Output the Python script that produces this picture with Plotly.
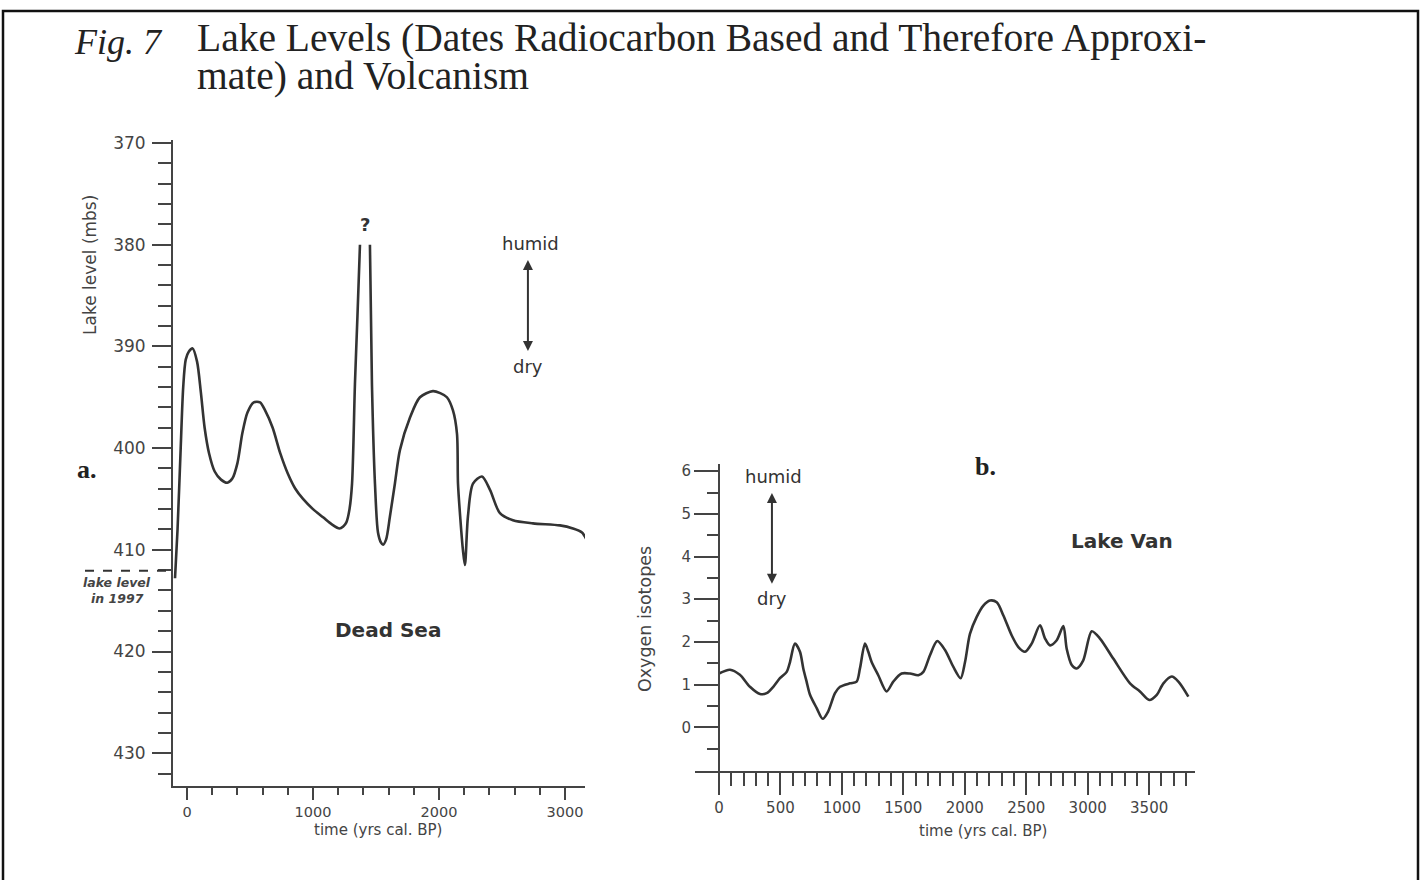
import plotly.graph_objects as go

# ---------------- DATA ----------------
# Panel a: Dead Sea lake level (m below sea level) vs time (yrs cal. BP)
dead_sea_x = [-95, -75, -50, -30, -10, 15, 45, 80, 110, 140, 175, 220, 270, 320, 360, 400, 440,
              480, 530, 580, 620, 680, 740, 800, 860, 921, 1000, 1080, 1150, 1210, 1240, 1265,
              1290, 1310, 1333, 1353, 1373,
              None,
              1452, 1468, 1492, 1516, 1540, 1556, 1580, 1611, 1650, 1690, 1770, 1849, 1952, 2010,
              2063, 2111, 2143, 2151, 2170, 2190, 2206, 2230, 2270, 2341, 2405, 2484, 2587, 2746,
              2960, 3063, 3135, 3175]
dead_sea_y = [412.8, 408.0, 400.0, 394.0, 391.3, 390.5, 390.2, 391.5, 394.5, 398.0, 400.5, 402.3,
              403.1, 403.4, 403.0, 401.5, 398.5, 396.5, 395.5, 395.5, 396.3, 398.0, 400.5, 402.5,
              404.0, 405.0, 406.0, 406.8, 407.5, 407.9, 407.7, 407.3, 406.0, 403.5, 393.7, 387.0,
              380.0,
              None,
              380.0, 393.7, 403.5, 408.3, 409.3, 409.5, 409.0, 406.7, 403.5, 400.2, 397.0, 395.0,
              394.4, 394.6, 395.0, 396.3, 398.6, 403.5, 407.0, 410.0, 411.5, 406.7, 403.5, 402.8,
              404.1, 406.4, 407.1, 407.4, 407.6, 407.9, 408.3, 409.1]

# Panel b: Lake Van oxygen isotopes vs time (yrs cal. BP)
van_x = [0, 90, 170, 252, 334, 388, 442, 496, 551, 578, 618, 659, 686, 713, 740, 795, 844, 888,
         944, 985, 1066, 1120, 1147, 1188, 1215, 1242, 1296, 1364, 1418, 1486, 1554, 1622, 1663,
         1717, 1776, 1839, 1906, 1966, 2002, 2042, 2096, 2151, 2205, 2260, 2314, 2382, 2436, 2490,
         2544, 2612, 2653, 2693, 2748, 2802, 2829, 2870, 2911, 2964, 3033, 3100, 3208, 3344, 3425,
         3501, 3562, 3616, 3684, 3738, 3819]
van_y = [1.26, 1.35, 1.23, 0.95, 0.78, 0.80, 0.95, 1.15, 1.30, 1.53, 1.96, 1.77, 1.38, 1.07, 0.77,
         0.45, 0.20, 0.37, 0.80, 0.95, 1.03, 1.07, 1.38, 1.96, 1.77, 1.53, 1.22, 0.84, 1.07, 1.26,
         1.26, 1.22, 1.30, 1.69, 2.02, 1.81, 1.42, 1.15, 1.53, 2.19, 2.58, 2.85, 2.97, 2.93, 2.62,
         2.15, 1.88, 1.77, 1.96, 2.39, 2.08, 1.92, 2.04, 2.37, 1.84, 1.46, 1.38, 1.57, 2.25, 2.08,
         1.61, 1.03, 0.84, 0.64, 0.76, 1.03, 1.19, 1.07, 0.72]

a_major_x = [0, 1000, 2000, 3000]
a_major_y = [370, 380, 390, 400, 410, 420, 430]
b_major_x = [0, 500, 1000, 1500, 2000, 2500, 3000, 3500]
b_major_y = [0, 1, 2, 3, 4, 5, 6]
lake_level_1997 = 412.05

# ---------------- LAYOUT HELPERS ----------------
W, H = 1424, 880
def fx(px):
    return px / W
def fy(py):
    return 1 - py / H

SANS = "DejaVu Sans"
SERIF = "Liberation Serif"
AX = "#444444"
LINE = "#333333"

fig = go.Figure()

fig.add_trace(go.Scatter(x=dead_sea_x, y=dead_sea_y, mode="lines",
                         line=dict(color=LINE, width=2.6, shape="spline", smoothing=0.8),
                         connectgaps=False, xaxis="x", yaxis="y", hoverinfo="skip"))
fig.add_trace(go.Scatter(x=van_x, y=van_y, mode="lines",
                         line=dict(color=LINE, width=2.6, shape="spline", smoothing=0.8),
                         xaxis="x2", yaxis="y2", hoverinfo="skip"))

a_minor_x = [v for v in range(200, 3200, 200) if v not in a_major_x]
a_minor_y = [v for v in range(372, 434, 2) if v not in a_major_y]
b_minor_x = [v for v in range(100, 3900, 100) if v not in b_major_x]
b_minor_y = [v / 2 for v in range(-1, 12) if (v / 2) not in b_major_y]

tickfont_a = dict(family=SANS, size=17, color=AX)
tickfont_ax = dict(family=SANS, size=14.5, color=AX)
tickfont_b = dict(family=SANS, size=15, color=AX)

fig.update_layout(
    width=W, height=H,
    margin=dict(l=0, r=0, t=0, b=0),
    paper_bgcolor="white", plot_bgcolor="white",
    showlegend=False,
    xaxis=dict(domain=[fx(173), fx(585)], range=[-111, 3159], anchor="y",
               showgrid=False, zeroline=False, showline=True, linecolor=AX, linewidth=2,
               ticks="outside", tickvals=a_major_x, ticklen=12, tickwidth=2, tickcolor=AX,
               tickfont=tickfont_ax,
               minor=dict(tickvals=a_minor_x, ticks="outside", ticklen=7, tickwidth=2, tickcolor=AX)),
    yaxis=dict(domain=[fy(785), fy(134)], range=[433.2, 369.7], anchor="x",
               showgrid=False, zeroline=False, showline=True, linecolor=AX, linewidth=2,
               ticks="outside", tickvals=a_major_y, ticklen=19, tickwidth=2, tickcolor=AX,
               tickfont=tickfont_a, ticklabelstandoff=3,
               minor=dict(tickvals=a_minor_y, ticks="outside", ticklen=13, tickwidth=2, tickcolor=AX)),
    xaxis2=dict(domain=[fx(695), fx(1195)], range=[-195, 3873], anchor="y2",
                showgrid=False, zeroline=False, showline=True, linecolor=AX, linewidth=2,
                ticks="outside", tickvals=b_major_x, ticklen=22, tickwidth=2, tickcolor=AX,
                tickfont=tickfont_b,
                minor=dict(tickvals=b_minor_x, ticks="outside", ticklen=13, tickwidth=2, tickcolor=AX)),
    yaxis2=dict(domain=[fy(770), fy(461)], range=[-1.02, 6.16], anchor="free", position=fx(719),
                showgrid=False, zeroline=False, showline=True, linecolor=AX, linewidth=2,
                ticks="outside", tickvals=b_major_y, ticklen=24, tickwidth=2, tickcolor=AX,
                tickfont=tickfont_b,
                minor=dict(tickvals=b_minor_y, ticks="outside", ticklen=11, tickwidth=2, tickcolor=AX)),
)

ann = []
def txt(text, px, py, size, family=SANS, color="#333333", angle=0, xanchor="center",
        yanchor="middle", bold=False):
    if bold:
        text = "<b>" + text + "</b>"
    ann.append(dict(text=text, x=fx(px), y=fy(py), xref="paper", yref="paper",
                    xanchor=xanchor, yanchor=yanchor, showarrow=False, textangle=angle,
                    align="left", font=dict(family=family, size=size, color=color)))

# Title: two tightly spaced lines in one text block (base size sets line spacing)
big = '<span style="font-size:39.5px">%s</span>'
txt("<i>Fig. 7</i>", 72, 35, 36, family=SERIF, color="#222222", xanchor="left")
txt(big % "Lake Levels (Dates Radiocarbon Based and Therefore Approxi-" + "<br>"
    + big % "mate) and Volcanism",
    195, 7, 29.2, family=SERIF, color="#222222", xanchor="left", yanchor="top")

# Panel a texts
txt("Lake level (mbs)", 90, 260, 17, color=AX, angle=-90)
txt("time (yrs cal. BP)", 378, 830, 15, color=AX)
txt("humid", 530, 238, 18)
txt("dry", 528, 362, 18)
txt("?", 365, 219, 18, bold=True)
txt("a.", 87, 466, 26, family=SERIF, color="#222222", bold=True)
txt("Dead Sea", 388, 628, 20, bold=True)
txt("<i>lake level</i>", 117, 580, 12.5, color=AX, bold=True)
txt("<i>in 1997</i>", 117, 596, 12.5, color=AX, bold=True)

# Panel b texts
txt("Oxygen isotopes", 645, 617, 17.5, color=AX, angle=-90)
txt("time (yrs cal. BP)", 983, 831, 15, color=AX)
txt("humid", 773, 473, 18)
txt("dry", 772, 596, 18)
txt("b.", 985, 463, 26, family=SERIF, color="#222222", bold=True)
txt("Lake Van", 1122, 538, 20, bold=True)

# humid/dry double-headed arrows (in axis coordinates)
ann.append(dict(x=2706, y=381.5, ax=2706, ay=390.6, xref="x", yref="y", axref="x", ayref="y",
                text="", showarrow=True, arrowhead=2, startarrowhead=2, arrowside="end+start",
                arrowsize=1, arrowwidth=2, arrowcolor=LINE))
ann.append(dict(x=431, y=5.49, ax=431, ay=3.33, xref="x2", yref="y2", axref="x2", ayref="y2",
                text="", showarrow=True, arrowhead=2, startarrowhead=2, arrowside="end+start",
                arrowsize=1, arrowwidth=2, arrowcolor=LINE))

fig.update_layout(annotations=ann)

# Shapes: frame and 1997 lake level dashed line
fig.update_layout(shapes=[
    dict(type="rect", xref="paper", yref="paper", x0=fx(3), x1=fx(1418), y0=fy(882), y1=fy(4),
         line=dict(color="#111111", width=2.5), fillcolor="rgba(0,0,0,0)", layer="above"),
    dict(type="line", xref="paper", yref="y", x0=fx(85), x1=fx(173),
         y0=lake_level_1997, y1=lake_level_1997,
         line=dict(color=LINE, width=2, dash="dash")),
])

# remove the browser's default 8px body margin so the figure sits at the page origin
fig.write_html("out.html", config={"displayModeBar": False},
               post_script="document.body.style.margin='0px';")
